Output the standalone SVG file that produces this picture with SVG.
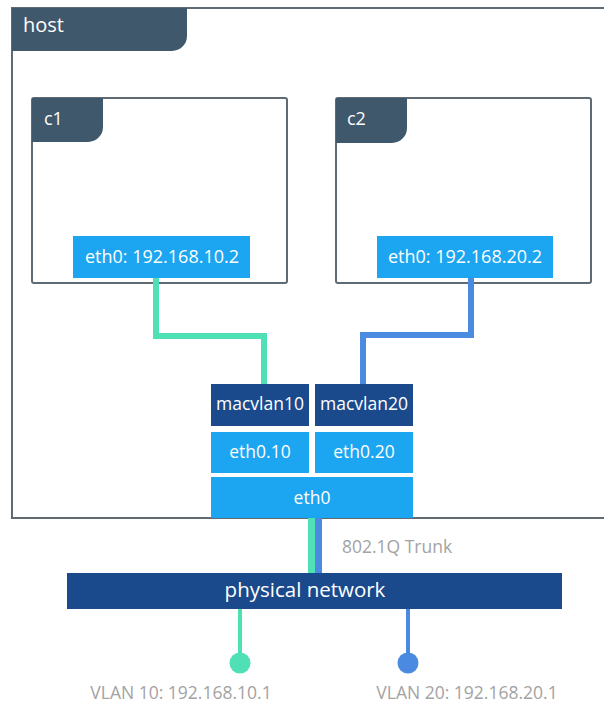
<svg xmlns="http://www.w3.org/2000/svg" width="604" height="706" viewBox="0 0 604 706">
<style>
.frame{fill:#ffffff;stroke:#5f6a72;stroke-width:2}
.tab{fill:#3f586b}
.tabtxt{font-family:"Open Sans","Liberation Sans",sans-serif;fill:#ffffff}
.ifc{fill:#1ca5f0}
.mac{fill:#1b4a8c}
.wt{font-family:"Open Sans","Liberation Sans",sans-serif;fill:#ffffff;text-anchor:middle}
.gt{font-family:"Open Sans","Liberation Sans",sans-serif;fill:#a3a3a3;text-anchor:middle}
.teal{stroke:#4fe0b6;fill:none}
.blue{stroke:#4a8ae0;fill:none}
</style>
<rect width="604" height="706" fill="#ffffff"/>
<g id="host">
<rect class="frame" x="12" y="8" width="610" height="510"/>
<path class="tab" d="M12 8 H187 V36 A15 15 0 0 1 172 51 H12 Z"/>
<text class="tabtxt" x="23" y="32" font-size="20">host</text>
</g>
<g id="c1">
<rect class="frame" x="32" y="98" width="255" height="185" rx="2"/>
<path class="tab" d="M32 98 H103 V127 A15 15 0 0 1 88 142 H32 Z"/>
<text class="tabtxt" x="44" y="125" font-size="18">c1</text>
</g>
<g id="c2">
<rect class="frame" x="336" y="98" width="255" height="185" rx="2"/>
<path class="tab" d="M336 98 H407 V128 A15 15 0 0 1 392 143 H336 Z"/>
<text class="tabtxt" x="347" y="125" font-size="18">c2</text>
</g>
<g id="connectors">
<polyline class="teal" stroke-width="6" points="156,278 156,336 264,336 264,384"/>
<polyline class="blue" stroke-width="6" points="471,278 471,335 363,335 363,384"/>
<line class="teal" stroke-width="7" x1="311.5" y1="518" x2="311.5" y2="573"/>
<line class="blue" stroke-width="7" x1="318.5" y1="518" x2="318.5" y2="573"/>
<line class="teal" stroke-width="4" x1="240" y1="609" x2="240" y2="663"/>
<line class="blue" stroke-width="4" x1="408" y1="609" x2="408" y2="663"/>
</g>
<g id="c1-eth0">
<rect class="ifc" x="73" y="236" width="177" height="42"/>
<text class="wt" x="162" y="263" font-size="18">eth0: 192.168.10.2</text>
</g>
<g id="c2-eth0">
<rect class="ifc" x="377" y="236" width="176" height="42"/>
<text class="wt" x="465" y="263" font-size="18">eth0: 192.168.20.2</text>
</g>
<g id="macvlan10">
<rect class="mac" x="211" y="384" width="98" height="42"/>
<text class="wt" x="260" y="410" font-size="17.5">macvlan10</text>
</g>
<g id="macvlan20">
<rect class="mac" x="315" y="384" width="98" height="42"/>
<text class="wt" x="364" y="410" font-size="17.5">macvlan20</text>
</g>
<g id="eth0-10">
<rect class="ifc" x="211" y="432" width="98" height="41"/>
<text class="wt" x="260" y="458" font-size="17.5">eth0.10</text>
</g>
<g id="eth0-20">
<rect class="ifc" x="315" y="432" width="98" height="41"/>
<text class="wt" x="364" y="458" font-size="17.5">eth0.20</text>
</g>
<g id="eth0">
<rect class="ifc" x="211" y="477" width="202" height="41"/>
<text class="wt" x="312" y="504" font-size="17.5">eth0</text>
</g>
<text class="gt" x="397" y="553" font-size="17.5">802.1Q Trunk</text>
<g id="physical-network">
<rect class="mac" x="67" y="573" width="495" height="36"/>
<text class="wt" x="305" y="597" font-size="20.5">physical network</text>
</g>
<g id="vlan10">
<circle cx="240" cy="663" r="10.5" fill="#4fe0b6"/>
<text class="gt" x="181" y="699" font-size="17.5">VLAN 10: 192.168.10.1</text>
</g>
<g id="vlan20">
<circle cx="408" cy="663" r="10.5" fill="#4a8ae0"/>
<text class="gt" x="467" y="699" font-size="17.5">VLAN 20: 192.168.20.1</text>
</g>
</svg>
